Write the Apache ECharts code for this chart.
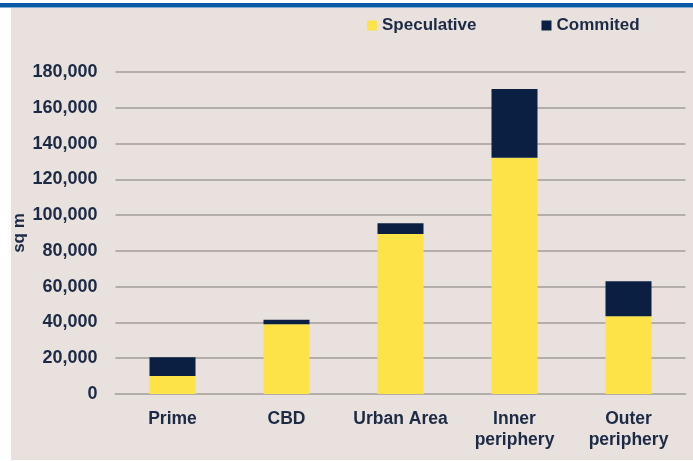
<!DOCTYPE html>
<html>
<head>
<meta charset="utf-8">
<script src="https://cdn.jsdelivr.net/npm/echarts@6/dist/echarts.min.js"></script>
<style>
  html, body { margin: 0; padding: 0; background: #ffffff; }
  #chart { width: 693px; height: 461px; }
</style>
</head>
<body>
<div id="chart"></div>
<script>
// Submarket categories
const categories = ['Prime', 'CBD', 'Urban Area', 'Inner\nperiphery', 'Outer\nperiphery'];
// Supply (sq m) split by status
const speculative = [10000, 39000, 89500, 132000, 43500];
const committed = [10500, 2500, 6000, 38500, 19500];
// Vertical axis range
const yMin = 0;
const yMax = 180000;
const yStep = 20000;

const ink = '#1d2a46';
const gridGray = '#b4aeab';
const font = "'Liberation Sans', Arial, sans-serif";

const chart = echarts.init(document.getElementById('chart'));
chart.setOption({
  backgroundColor: '#ffffff',
  animation: false,
  graphic: [
    { type: 'rect', z: -100, silent: true, shape: { x: 11, y: 8, width: 682, height: 452 }, style: { fill: '#e8e1dd' } },
    { type: 'rect', z: -100, silent: true, shape: { x: 0, y: 3, width: 693, height: 4.5 }, style: { fill: '#0a5aa8' } }
  ],
  legend: {
    data: ['Speculative', 'Commited'],
    left: 362,
    top: 12,
    icon: 'rect',
    itemWidth: 10,
    itemHeight: 10,
    itemGap: 65,
    textStyle: { fontFamily: font, fontWeight: 'bold', fontSize: 17, color: ink }
  },
  grid: { left: 115.5, right: 7.5, top: 72, bottom: 67 },
  xAxis: {
    type: 'category',
    data: categories,
    axisLine: { lineStyle: { color: gridGray, width: 2 } },
    axisTick: { show: false },
    axisLabel: { interval: 0, fontFamily: font, fontWeight: 'bold', fontSize: 17.5, color: ink, margin: 15, lineHeight: 21 }
  },
  yAxis: {
    type: 'value',
    min: yMin,
    max: yMax,
    interval: yStep,
    name: 'sq m',
    nameLocation: 'middle',
    nameRotate: 90,
    nameGap: 88,
    nameMoveOverlap: false,
    nameTextStyle: { fontFamily: font, fontWeight: 'bold', fontSize: 17, color: ink },
    axisLine: { show: false },
    axisTick: { show: false },
    axisLabel: {
      fontFamily: font, fontWeight: 'bold', fontSize: 18, color: ink, margin: 18,
      formatter: v => v.toLocaleString('en-US')
    },
    splitLine: { lineStyle: { color: gridGray, width: 2 } }
  },
  series: [
    { name: 'Speculative', type: 'bar', stack: 'supply', barWidth: 46, data: speculative, itemStyle: { color: '#fde348' } },
    { name: 'Commited', type: 'bar', stack: 'supply', barWidth: 46, data: committed, itemStyle: { color: '#0b1f43' } }
  ]
});
</script>
</body>
</html>
